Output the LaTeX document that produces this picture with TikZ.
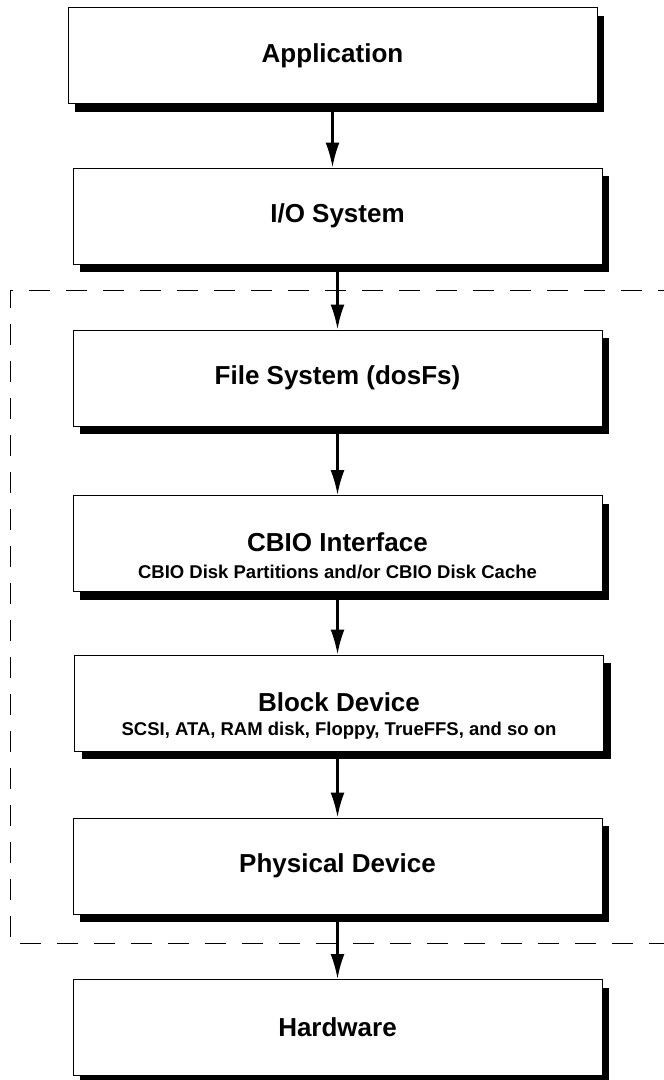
\documentclass[tikz,border=0pt]{standalone}
\usepackage{fontspec}
\setmainfont{Liberation Sans}
\usetikzlibrary{arrows.meta,shadows}
\tikzset{
	layer/.style={draw, fill=white, line width=1pt, minimum width=529pt, minimum height=96pt, inner sep=0pt,
		drop shadow={shadow xshift=7pt, shadow yshift=-8pt, fill=black, opacity=1}},
	title/.style={font=\fontsize{26}{30}\selectfont\bfseries, inner sep=0pt},
	subtitle/.style={font=\fontsize{18.5}{22}\selectfont\bfseries, inner sep=0pt},
	flow/.style={line width=2.4pt, -{Latex[length=25pt, width=14pt]}}
}

\begin{document}
\begin{tikzpicture}[x=1pt, y=-1pt]
			%%%%% START %%%%%
			\useasboundingbox (0, 0) rectangle (664, 1080);
			\clip (0, 0) rectangle (664, 1080);
			
			\node[layer, title] (app) at (332.5, 55.5) {Application};
			\node[layer, title] (io) at (337.5, 216) {I/O System};
			\node[layer, title] (fs) at (337.5, 378) {File System (dosFs)};
			
			\node[layer] (cbio) at (337.5, 543.5) {};
			\node[title] (cbiotitle) at (337.5, 542) {CBIO Interface};
			\node[subtitle] (cbiosub) at (337.5, 572) {CBIO Disk Partitions and/or CBIO Disk Cache};
			
			\node[layer] (blk) at (339, 703) {};
			\node[title] (blktitle) at (339, 702) {Block Device};
			\node[subtitle] (blksub) at (339, 731) {SCSI, ATA, RAM disk, Floppy, TrueFFS, and so on};
			
			\node[layer, title] (phys) at (337.5, 866) {Physical Device};
			\node[layer, title] (hw) at (337.5, 1027.5) {Hardware};
			
			\draw[flow] (app) -- (app |- io.north);
			\draw[flow] (io) -- (fs);
			\draw[flow] (fs) -- (cbio);
			\draw[flow] (cbio) -- (cbio |- blk.north);
			\draw[flow] (blk.south -| phys) -- (phys);
			\draw[flow] (phys) -- (hw);
			
			\draw[line width=1pt, dash pattern=on 21pt off 16pt, dash phase=16pt] (700, 290) -- (10, 290) -- (10, 943) -- (700, 943);
			
			%%%%% END %%%%%
		\end{tikzpicture}
\end{document}
